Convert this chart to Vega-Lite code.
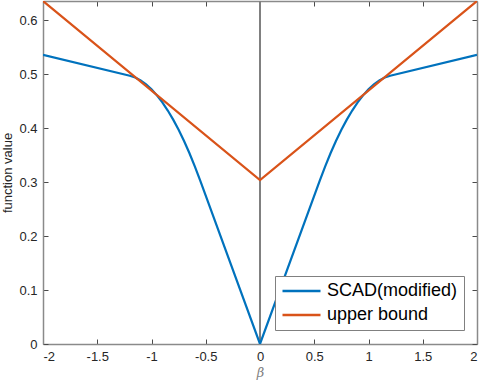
{
  "$schema": "https://vega.github.io/schema/vega-lite/v6.json",
  "width": 434,
  "height": 343,
  "autosize": {"type": "none"},
  "padding": {"left": 43, "top": 1, "right": 3, "bottom": 39},
  "background": "white",
  "config": {
    "view": {"stroke": null},
    "font": "Liberation Sans",
    "axis": {
      "grid": false,
      "domainColor": "#8a8a8a",
      "domainWidth": 1.5,
      "tickColor": "#4a4a4a",
      "tickSize": -5,
      "tickWidth": 1,
      "labelFont": "Liberation Sans",
      "labelFontSize": 13,
      "labelColor": "#262626",
      "labelPadding": 11,
      "titleFont": "Liberation Sans",
      "titleFontWeight": "normal",
      "titleFontSize": 13,
      "titleColor": "#262626"
    }
  },
  "data": {
    "values": [
      {"beta": -2, "value": 0.536, "series": "SCAD(modified)"},
      {"beta": -1.2, "value": 0.4975, "series": "SCAD(modified)"},
      {"beta": -1.15, "value": 0.494, "series": "SCAD(modified)"},
      {"beta": -1.1, "value": 0.4887, "series": "SCAD(modified)"},
      {"beta": -1.05, "value": 0.4814, "series": "SCAD(modified)"},
      {"beta": -1.0, "value": 0.4721, "series": "SCAD(modified)"},
      {"beta": -0.95, "value": 0.461, "series": "SCAD(modified)"},
      {"beta": -0.9, "value": 0.4479, "series": "SCAD(modified)"},
      {"beta": -0.85, "value": 0.4329, "series": "SCAD(modified)"},
      {"beta": -0.8, "value": 0.416, "series": "SCAD(modified)"},
      {"beta": -0.75, "value": 0.3971, "series": "SCAD(modified)"},
      {"beta": -0.7, "value": 0.3763, "series": "SCAD(modified)"},
      {"beta": -0.65, "value": 0.3537, "series": "SCAD(modified)"},
      {"beta": -0.6, "value": 0.329, "series": "SCAD(modified)"},
      {"beta": -0.55, "value": 0.3025, "series": "SCAD(modified)"},
      {"beta": 0, "value": 0, "series": "SCAD(modified)"},
      {"beta": 0.55, "value": 0.3025, "series": "SCAD(modified)"},
      {"beta": 0.6, "value": 0.329, "series": "SCAD(modified)"},
      {"beta": 0.65, "value": 0.3537, "series": "SCAD(modified)"},
      {"beta": 0.7, "value": 0.3763, "series": "SCAD(modified)"},
      {"beta": 0.75, "value": 0.3971, "series": "SCAD(modified)"},
      {"beta": 0.8, "value": 0.416, "series": "SCAD(modified)"},
      {"beta": 0.85, "value": 0.4329, "series": "SCAD(modified)"},
      {"beta": 0.9, "value": 0.4479, "series": "SCAD(modified)"},
      {"beta": 0.95, "value": 0.461, "series": "SCAD(modified)"},
      {"beta": 1.0, "value": 0.4721, "series": "SCAD(modified)"},
      {"beta": 1.05, "value": 0.4814, "series": "SCAD(modified)"},
      {"beta": 1.1, "value": 0.4887, "series": "SCAD(modified)"},
      {"beta": 1.15, "value": 0.494, "series": "SCAD(modified)"},
      {"beta": 1.2, "value": 0.4975, "series": "SCAD(modified)"},
      {"beta": 2, "value": 0.536, "series": "SCAD(modified)"},
      {"beta": -2, "value": 0.636, "series": "upper bound"},
      {"beta": 0, "value": 0.304, "series": "upper bound"},
      {"beta": 2, "value": 0.636, "series": "upper bound"}
    ]
  },
  "layer": [
    {
      "mark": {"type": "rule", "color": "#808080", "strokeWidth": 1.5},
      "encoding": {
        "x": {"datum": 0, "type": "quantitative", "axis": null}
      }
    },
    {
      "mark": {"type": "line", "strokeWidth": 2.2, "clip": true},
      "encoding": {
        "x": {
          "field": "beta", "type": "quantitative",
          "scale": {"domain": [-2, 2], "nice": false, "zero": false},
          "axis": {
            "orient": "bottom",
            "values": [-2, -1.5, -1, -0.5, 0, 0.5, 1, 1.5, 2],
            "labelExpr": "'' + datum.value",
            "title": "β",
            "titleFontStyle": "italic",
            "titleFont": "DejaVu Serif",
            "titleColor": "#808080",
            "titlePadding": 3
          }
        },
        "y": {
          "field": "value", "type": "quantitative",
          "scale": {"domain": [0, 0.636], "nice": false},
          "axis": {
            "orient": "left",
            "values": [0, 0.1, 0.2, 0.3, 0.4, 0.5, 0.6],
            "labelExpr": "'' + datum.value",
            "title": "function value",
            "titlePadding": 4
          }
        },
        "color": {
          "field": "series", "type": "nominal",
          "scale": {"domain": ["SCAD(modified)", "upper bound"], "range": ["#0072BD", "#D95319"]},
          "legend": {
            "title": null,
            "orient": "none",
            "legendX": 232,
            "legendY": 275,
            "symbolType": "stroke",
            "symbolSize": 1444,
            "symbolStrokeWidth": 2.5,
            "clipHeight": 18,
            "labelFontSize": 18,
            "labelFont": "Liberation Sans",
            "labelColor": "#000000",
            "labelOffset": 5,
            "rowPadding": 6,
            "padding": 6,
            "strokeColor": "#808080",
            "fillColor": "white"
          }
        }
      }
    },
    {
      "mark": {"type": "line", "strokeOpacity": 0},
      "encoding": {
        "x": {
          "field": "beta", "type": "quantitative",
          "axis": {"orient": "top", "values": [-2, -1.5, -1, -0.5, 0, 0.5, 1, 1.5, 2], "labels": false, "title": null}
        },
        "y": {
          "field": "value", "type": "quantitative",
          "axis": {"orient": "right", "values": [0, 0.1, 0.2, 0.3, 0.4, 0.5, 0.6], "labels": false, "title": null}
        },
        "detail": {"field": "series"}
      }
    }
  ],
  "resolve": {"axis": {"x": "independent", "y": "independent"}}
}
